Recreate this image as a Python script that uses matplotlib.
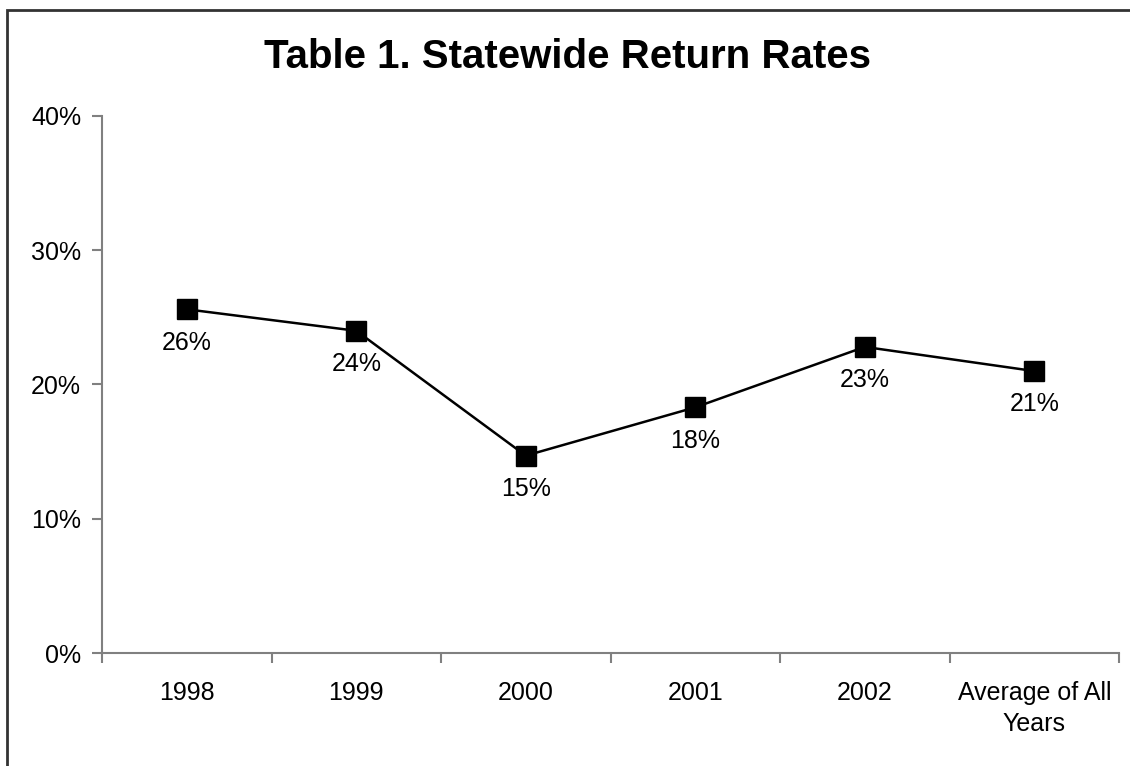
import matplotlib
matplotlib.use("Agg")
import matplotlib.pyplot as plt
from matplotlib.patches import Rectangle
from matplotlib.ticker import FixedLocator, PercentFormatter

categories = ["1998", "1999", "2000", "2001", "2002", "Average of All\nYears"]
return_rates = [25.6, 24.0, 14.7, 18.3, 22.8, 21.0]

plt.rcParams["font.family"] = ["Liberation Sans", "DejaVu Sans"]

fig = plt.figure(figsize=(11.3, 7.66), dpi=100)
ax = fig.add_axes([0.0903, 0.1475, 0.9000, 0.7011])

x = list(range(len(categories)))
ax.plot(x, return_rates, color="black", linewidth=1.8,
        marker="s", markersize=14, markerfacecolor="black", markeredgecolor="black")

for xi, v in zip(x, return_rates):
    ax.annotate(f"{v:.0f}%", (xi, v), xytext=(0, -24), textcoords="offset points",
                ha="center", va="center", fontsize=18)

ax.set_xlim(-0.5, len(categories) - 0.5)
ax.set_ylim(0, 40)
ax.set_yticks([0, 10, 20, 30, 40])
ax.yaxis.set_major_formatter(PercentFormatter(decimals=0))

# category labels centred, ticks on the boundaries between them
ax.set_xticks(x)
ax.set_xticklabels(categories, fontsize=18, linespacing=1.4)
ax.xaxis.set_minor_locator(FixedLocator([i - 0.5 for i in range(len(categories) + 1)]))
ax.tick_params(axis="x", which="major", length=0, pad=20)
ax.tick_params(axis="x", which="minor", length=7, width=1.5, color="#808080", direction="out")
ax.tick_params(axis="y", length=7, width=1.5, color="#808080", labelsize=18, pad=8)

for side in ("top", "right"):
    ax.spines[side].set_visible(False)
for side in ("left", "bottom"):
    ax.spines[side].set_color("#808080")
    ax.spines[side].set_linewidth(1.5)

fig.text(0.502, 1 - 68 / 766, "Table 1. Statewide Return Rates", ha="center", va="baseline",
         fontsize=29, fontweight="bold")

# outer chart border, open to the right and bottom
fig.patches.append(Rectangle((6.5 / 1130, -0.05), 1.2, 1 - 10 / 766 + 0.05,
                             transform=fig.transFigure, fill=False,
                             edgecolor="#333333", linewidth=2))

fig.savefig("out.png", dpi=100)
